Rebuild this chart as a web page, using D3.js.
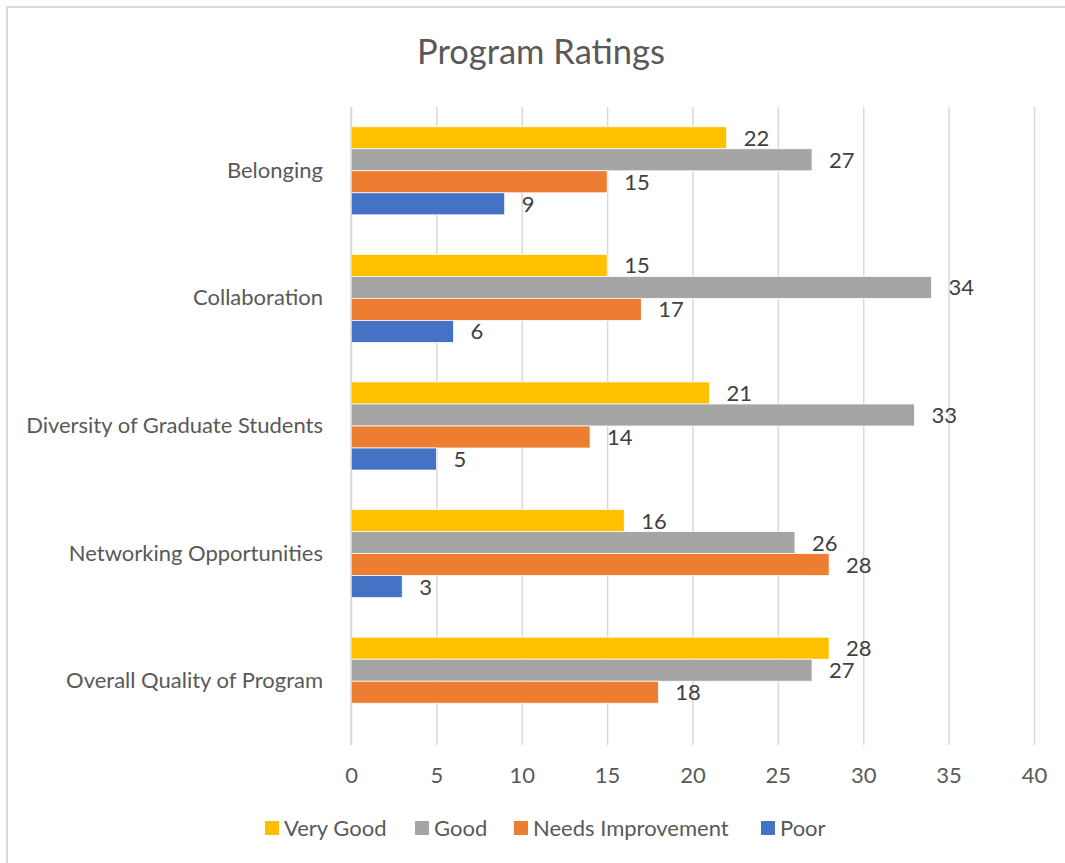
<!DOCTYPE html>
<html>
<head>
<meta charset="utf-8">
<script src="https://cdn.jsdelivr.net/npm/d3@7"></script>
<style>
  html, body { margin: 0; padding: 0; background: #fff; }
  svg { display: block; }
  text { font-family: Lato, "Open Sans", sans-serif; }
</style>
</head>
<body>
<script>
const categories = ["Belonging", "Collaboration", "Diversity of Graduate Students", "Networking Opportunities", "Overall Quality of Program"];
const seriesNames = ["Very Good", "Good", "Needs Improvement", "Poor"];
const veryGood = [22, 15, 21, 16, 28];
const good = [27, 34, 33, 26, 27];
const needsImprovement = [15, 17, 14, 28, 18];
const poor = [9, 6, 5, 3, null];
const xTicks = [0, 5, 10, 15, 20, 25, 30, 35, 40];
const colors = ["#FFC000", "#A5A5A5", "#ED7D31", "#4472C4"];

const seriesValues = [veryGood, good, needsImprovement, poor];
const W = 1065, H = 863;

const svg = d3.select("body").append("svg").attr("width", W).attr("height", H);

// chart border (only top/left visible in frame)
svg.append("rect").attr("x", 7).attr("y", 7).attr("width", W + 20).attr("height", H + 20)
  .attr("fill", "#fff").attr("stroke", "#D9D9D9").attr("stroke-width", 2);

const x = d3.scaleLinear().domain([0, 40]).range([351, 1034]);
const y = d3.scaleBand().domain(categories).range([107, 745]).paddingInner(0.31).paddingOuter(0.155);
const ys = d3.scaleBand().domain(seriesNames).range([0, y.bandwidth()]);
const color = d3.scaleOrdinal().domain(seriesNames).range(colors);

// title
svg.append("text").attr("x", 541).attr("y", 64).attr("text-anchor", "middle")
  .attr("fill", "#595959").attr("font-size", 34.5).text("Program Ratings");

// gridlines
const xAxis = d3.axisBottom(x).tickValues(xTicks).tickSize(-(745 - 107)).tickPadding(22);
const gx = svg.append("g").attr("transform", "translate(0,745)").call(xAxis);
gx.select(".domain").remove();
gx.selectAll(".tick line").attr("stroke", "#D9D9D9").attr("stroke-width", 1.5);
gx.selectAll(".tick text").attr("fill", "#595959").attr("font-size", 22)
  .attr("font-family", "Lato, 'Open Sans', sans-serif");

// category axis
const yAxis = d3.axisLeft(y).tickSize(0).tickPadding(28);
const gy = svg.append("g").attr("transform", "translate(351,0)").call(yAxis);
gy.select(".domain").remove();
gy.selectAll(".tick text").attr("fill", "#595959").attr("font-size", 22)
  .attr("font-family", "Lato, 'Open Sans', sans-serif");

// bars
const rows = [];
categories.forEach((c, i) => {
  seriesNames.forEach((s, j) => {
    const v = seriesValues[j][i];
    if (v !== null && v !== undefined) rows.push({ c, s, v });
  });
});

const g = svg.append("g");
g.selectAll("rect.bar").data(rows).join("rect").attr("class", "bar")
  .attr("x", x(0))
  .attr("y", d => y(d.c) + ys(d.s))
  .attr("width", d => x(d.v) - x(0))
  .attr("height", ys.bandwidth())
  .attr("fill", d => color(d.s))
  .attr("stroke", "#fff").attr("stroke-width", 0.75);

g.selectAll("text.lbl").data(rows).join("text").attr("class", "lbl")
  .attr("x", d => x(d.v) + 17)
  .attr("y", d => y(d.c) + ys(d.s) + ys.bandwidth() / 2)
  .attr("dy", "0.36em")
  .attr("fill", "#404040").attr("font-size", 22)
  .text(d => d.v);

// y axis line at 0
svg.append("line").attr("x1", x(0)).attr("x2", x(0)).attr("y1", 107).attr("y2", 745)
  .attr("stroke", "#D9D9D9").attr("stroke-width", 1.5);

// legend
const legendX = [265, 415, 514, 761];
const lg = svg.append("g");
seriesNames.forEach((s, i) => {
  lg.append("rect").attr("x", legendX[i]).attr("y", 821).attr("width", 14).attr("height", 14).attr("fill", color(s));
  lg.append("text").attr("x", legendX[i] + 19).attr("y", 828).attr("dy", "0.36em")
    .attr("fill", "#595959").attr("font-size", 22).text(s);
});
</script>
</body>
</html>
